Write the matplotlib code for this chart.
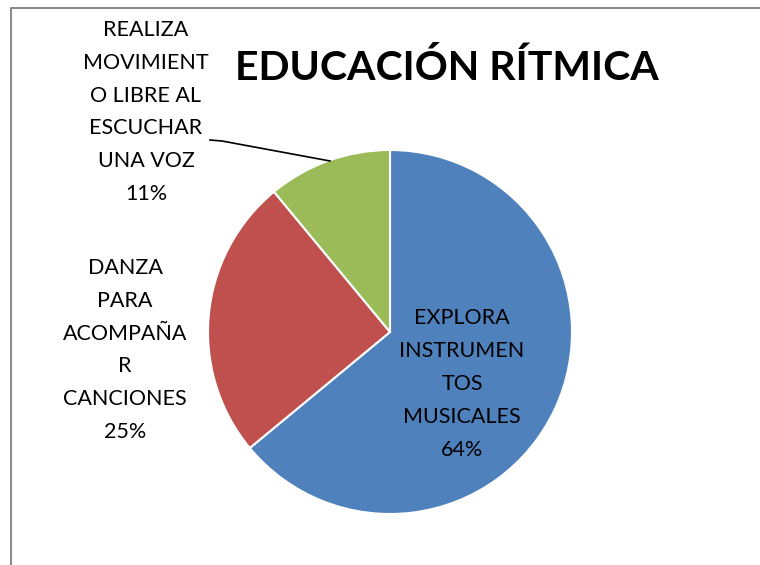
import matplotlib.pyplot as plt

plt.rcParams['font.family'] = ['Lato', 'DejaVu Sans']

title = 'EDUCACIÓN RÍTMICA'
labels = ['EXPLORA\nINSTRUMEN\nTOS\nMUSICALES', 'DANZA\nPARA\nACOMPAÑA\nR\nCANCIONES',
          'REALIZA\nMOVIMIENT\nO LIBRE AL\nESCUCHAR\nUNA VOZ']
values = [64, 25, 11]
colors = ['#4F81BD', '#C0504D', '#9BBB59']

fig = plt.figure(figsize=(7.6, 5.65), dpi=100)
ax = fig.add_axes([0, 0, 1, 1])

# chart border (runs off the right and bottom edges)
ax.plot([11, 11, 770], [-10, 557, 557], color='#8c8c8c', lw=1.5, clip_on=False)

ax.pie(values, colors=colors, startangle=90, counterclock=False,
       center=(390, 233), radius=182, frame=True,
       wedgeprops=dict(edgecolor='white', linewidth=1.5))
ax.set_xlim(0, 760)
ax.set_ylim(0, 565)
ax.set_aspect('equal')
ax.axis('off')

# labels
pos = [(462, 181), (125, 215), (146, 453)]
for (x, y), lab, v in zip(pos, labels, values):
    ax.text(x, y, lab + '\n' + str(v) + '%', ha='center', va='center',
            fontsize=15.5, linespacing=1.8, color='black')

# leader line for the small slice
ax.plot([210, 222, 330], [425, 424, 404], color='black', lw=1.2)

ax.text(447, 497, title, ha='center', va='center', fontsize=29.5, fontweight='bold')

fig.savefig('out.png', dpi=100)
